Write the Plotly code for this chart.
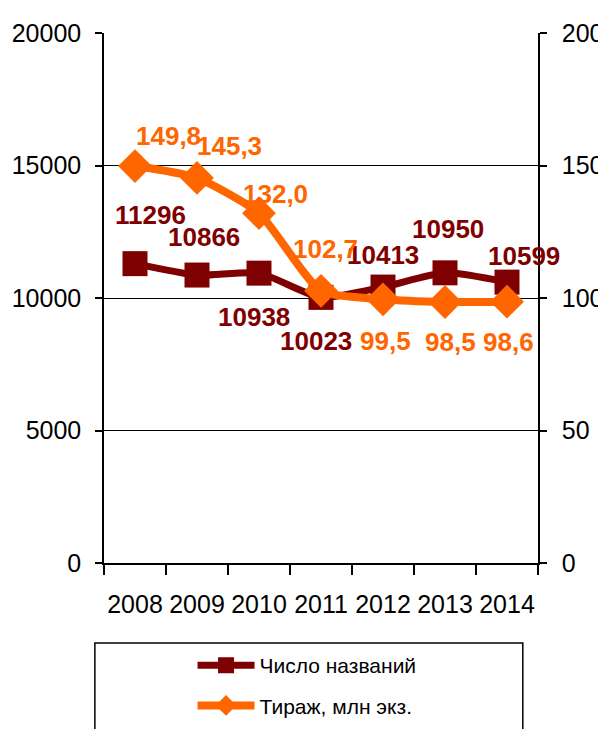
import plotly.graph_objects as go

years = ["2008", "2009", "2010", "2011", "2012", "2013", "2014"]
titles = [11296, 10866, 10938, 10023, 10413, 10950, 10599]
circulation = [149.8, 145.3, 132.0, 102.7, 99.5, 98.5, 98.6]
titles_labels = ["11296", "10866", "10938", "10023", "10413", "10950", "10599"]
circ_labels = ["149,8", "145,3", "132,0", "102,7", "99,5", "98,5", "98,6"]
name_titles = "Число названий"
name_circ = "Тираж, млн экз."

DARK = "#7f0000"
ORANGE = "#ff6600"
FONT = "Liberation Sans, Arial, sans-serif"

# label offsets in pixels (style)
t_off = [(15, 49), (7, 38), (-5, -44), (-5, -44), (0, 32), (3, 44), (17, 26)]
c_off = [(33, 30), (32, 32), (16, 19), (4, 42), (2, -42), (5, -40), (1, -40)]

fig = go.Figure()
fig.add_trace(go.Scatter(
    x=years, y=titles, name=name_titles, mode="lines+markers",
    line=dict(color=DARK, width=7, shape="spline", smoothing=0.6),
    marker=dict(symbol="square", size=25, color=DARK),
    legendgroup="a", yaxis="y"))
fig.add_trace(go.Scatter(
    x=years, y=circulation, name=name_circ, mode="lines+markers",
    line=dict(color=ORANGE, width=8, shape="spline", smoothing=0.6),
    marker=dict(symbol="diamond", size=26, color=ORANGE),
    legendgroup="b", yaxis="y2"))

ann = []
for i, (v, lab, (dx, dy)) in enumerate(zip(titles, titles_labels, t_off)):
    ann.append(dict(x=i, y=v, xref="x", yref="y", text="<b>%s</b>" % lab,
                    showarrow=False, xshift=dx, yshift=dy,
                    font=dict(family=FONT, size=26, color=DARK)))
for i, (v, lab, (dx, dy)) in enumerate(zip(circulation, circ_labels, c_off)):
    ann.append(dict(x=i, y=v, xref="x", yref="y2", text="<b>%s</b>" % lab,
                    showarrow=False, xshift=dx, yshift=dy,
                    font=dict(family=FONT, size=26, color=ORANGE)))

fig.update_layout(
    width=598, height=721,
    margin=dict(l=96, r=68, t=25, b=166, autoexpand=False),
    paper_bgcolor="white", plot_bgcolor="white",
    font=dict(family=FONT, size=24, color="black"),
    showlegend=True,
    legend=dict(x=0.204, y=-0.1547, xanchor="left", yanchor="top",
                orientation="v", font=dict(family=FONT, size=21, color="black"),
                bgcolor="rgba(0,0,0,0)", itemwidth=57, tracegroupgap=10),
    xaxis=dict(type="category", range=[-0.5, len(years) - 0.5], showline=True,
               linecolor="black", linewidth=1.5, automargin=False,
               ticks="outside", tickson="boundaries", ticklen=10, tickcolor="black",
               tickwidth=1.5, showgrid=False, tickfont=dict(size=25),
               tickangle=0, ticklabelstandoff=18),
    yaxis=dict(range=[0, 20000], dtick=5000, tickformat="d", showline=True, linecolor="black",
               linewidth=1.5, ticks="outside", ticklen=7, tickcolor="black",
               tickwidth=1.5, showgrid=True, gridcolor="black", gridwidth=1,
               zeroline=False, tickfont=dict(size=25), ticklabelstandoff=9,
               automargin=False),
    yaxis2=dict(range=[0, 200], dtick=50, tickformat="d", overlaying="y", side="right",
                showline=True, linecolor="black", linewidth=1.5, ticks="outside",
                ticklen=7, tickcolor="black", tickwidth=1.5, showgrid=False,
                zeroline=False, tickfont=dict(size=25), ticklabelstandoff=10,
                automargin=False),
    annotations=ann,
    shapes=[dict(type="rect", xref="paper", yref="paper", x0=-0.021, x1=0.965,
                 y0=-0.33, y1=-0.151, line=dict(color="black", width=1.5),
                 fillcolor="rgba(0,0,0,0)", layer="below")],
)

fig.write_html("out.html")
